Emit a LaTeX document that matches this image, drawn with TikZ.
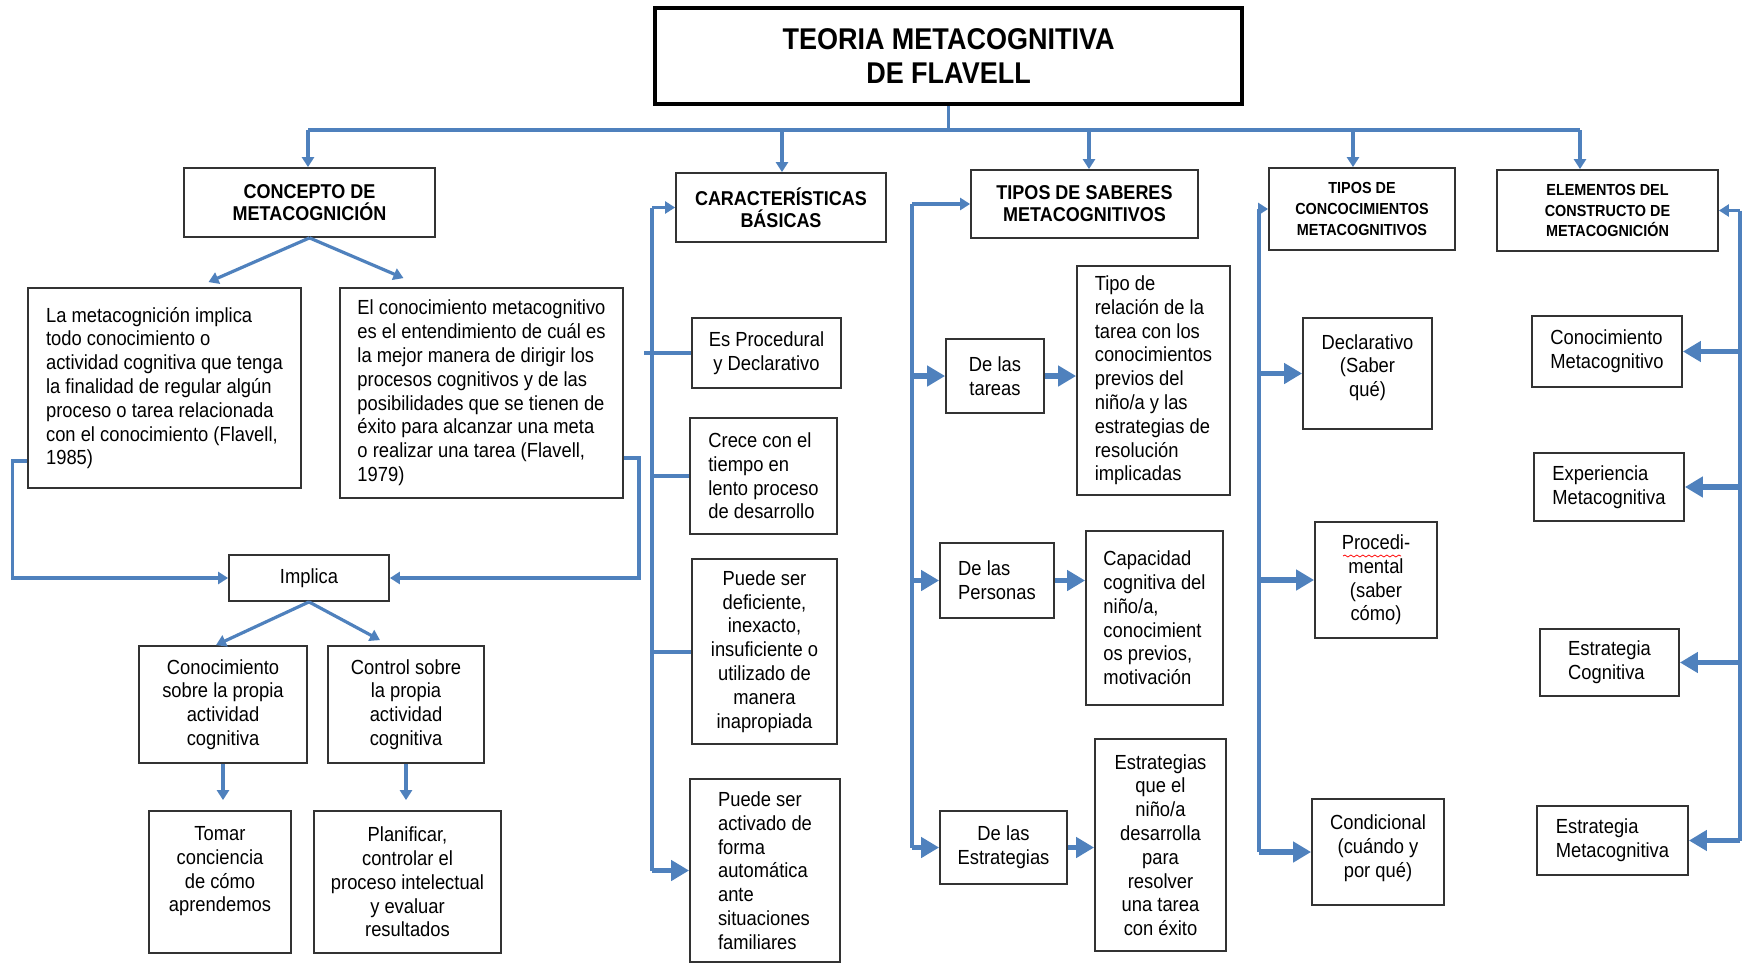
\documentclass[tikz,border=0pt]{standalone}
\usepackage{fontspec}
\setmainfont{Liberation Sans}[FakeStretch=0.9]
\usetikzlibrary{arrows.meta,decorations.pathmorphing}
\definecolor{lineblue}{RGB}{79,129,189}
\tikzset{
  box/.style={draw=black!80, line width=0.9pt, inner sep=2pt, font=\fontsize{10.2}{11.9}\selectfont},
  head/.style={box, font=\fontsize{10}{11}\selectfont\bfseries, align=center},
  smallhead/.style={box, font=\fontsize{8}{10.3}\selectfont\bfseries, align=center},
  wire/.style={draw=lineblue, line width=2pt},
  thinarr/.style={wire, line width=1.6pt, -{Triangle[length=5pt,width=6pt]}},
  thickarr/.style={wire, line width=2.6pt, -{Triangle[length=9pt,width=10pt]}},
}

\begin{document}
\begin{tikzpicture}[x=0.5pt,y=-0.5pt]
\useasboundingbox (0,0) rectangle (1752,964);

%Title and headings
\node[box, draw=black, line width=1.8pt, minimum width=293.5pt, minimum height=48pt,
  font=\fontsize{15}{16.8}\selectfont\bfseries, align=center] (title) at (948.5,56) {TEORIA METACOGNITIVA\\DE FLAVELL};
\node[head, minimum width=125.5pt, minimum height=34.5pt] (concepto) at (309.5,202.5) {CONCEPTO DE\\METACOGNICIÓN};
\node[head, minimum width=105pt, minimum height=34.5pt] (caract) at (781,207.5) {CARACTERÍSTICAS\\BÁSICAS};
\node[head, minimum width=113.5pt, minimum height=34pt] (saberes) at (1084.5,204) {TIPOS DE SABERES\\METACOGNITIVOS};
\node[smallhead, minimum width=93pt, minimum height=41pt] (conoc) at (1362,209) {TIPOS DE\\CONCOCIMIENTOS\\METACOGNITIVOS};
\node[smallhead, minimum width=110.5pt, minimum height=40.5pt] (elem) at (1607.5,210.5) {ELEMENTOS DEL\\CONSTRUCTO DE\\METACOGNICIÓN};

\coordinate (b1) at (308,130);
\coordinate (b2) at (782,130);
\coordinate (b3) at (1089,130);
\coordinate (b4) at (1353,130);
\coordinate (b5) at (1580,130);
\draw[wire, line width=1.6pt] (title.south) -- (title.south |- b1);
\draw[wire] (b1) -- (b5);
\foreach \c/\n in {b1/concepto, b2/caract, b3/saberes, b4/conoc, b5/elem}
  \draw[thinarr] (\c) -- (\c |- \n.north);

%Concepto
\node[box, align=left, minimum width=136.5pt, minimum height=100pt] (def1) at (164.5,388)
  {La metacognición implica\\todo conocimiento o\\actividad cognitiva que tenga\\la finalidad de regular algún\\proceso o tarea relacionada\\con el conocimiento (Flavell,\\1985)};
\node[box, align=left, minimum width=141.5pt, minimum height=105pt] (def2) at (481.5,393)
  {El conocimiento metacognitivo\\es el entendimiento de cuál es\\la mejor manera de dirigir los\\procesos cognitivos y de las\\posibilidades que se tienen de\\éxito para alcanzar una meta\\o realizar una tarea (Flavell,\\1979)};
\node[box, minimum width=80pt, minimum height=23pt] (impl) at (309,578) {Implica};
\node[box, align=center, minimum width=84pt, minimum height=58.5pt] (kn) at (223,704.5)
  {Conocimiento\\sobre la propia\\actividad\\cognitiva};
\node[box, align=center, minimum width=78pt, minimum height=58.5pt] (ctrl) at (406,704.5)
  {Control sobre\\la propia\\actividad\\cognitiva};
\node[box, align=center, minimum width=71pt, minimum height=71pt] (tomar) at (220,882)
  {Tomar\\conciencia\\de cómo\\aprendemos\\[1pt]};
\node[box, align=center, minimum width=93.5pt, minimum height=71pt] (plan) at (407.5,882)
  {Planificar,\\controlar el\\proceso intelectual\\y evaluar\\resultados};

\draw[thinarr] (concepto.south) -- ([xshift=22pt,yshift=2.5pt]def1.north);
\draw[thinarr] (concepto.south) -- ([xshift=-39pt,yshift=4.5pt]def2.north);
\draw[thinarr] ([yshift=-36.5pt]def1.west) -- ++(-15,0) |- (impl.west);
\draw[thinarr] ([yshift=-32.5pt]def2.east) -- ++(15,0) |- (impl.east);
\draw[thinarr] (impl.south) -- ([xshift=-3.5pt]kn.north);
\draw[thinarr] (impl.south) -- ([xshift=-13pt,yshift=2.5pt]ctrl.north);
\draw[thinarr, shorten >=5pt] (kn.south) -- (kn.south |- tomar.north);
\draw[thinarr, shorten >=5pt] (ctrl.south) -- (ctrl.south |- plan.north);

%Caracteristicas
\coordinate (v2) at (652,0);
\node[box, align=center, minimum width=74.5pt, minimum height=35pt] (proc) at (766.5,353)
  {Es Procedural\\y Declarativo};
\node[box, align=left, minimum width=73.5pt, minimum height=58pt] (crece) at (763.5,476)
  {Crece con el\\tiempo en\\lento proceso\\de desarrollo};
\node[box, align=center, minimum width=72.5pt, minimum height=92.5pt] (defic) at (764.5,651.5)
  {Puede ser\\deficiente,\\inexacto,\\insuficiente o\\utilizado de\\manera\\inapropiada};
\node[box, align=left, minimum width=75pt, minimum height=91.5pt] (activ) at (765,870.5)
  {Puede ser\\activado de\\forma\\automática\\ante\\situaciones\\familiares};
\draw[wire] (caract.west -| v2) -- (activ.west -| v2);
\draw[thinarr] (caract.west -| v2) -- (caract.west);
\draw[wire] (proc.west -| v2) ++(-8,0) -- (proc.west);
\foreach \n in {crece, defic}
  \draw[wire] (\n.west -| v2) -- (\n.west);
\draw[thickarr] (activ.west -| v2) -- (activ.west);

%Tipos de saberes
\coordinate (v3) at (912,0);
\node[box, align=center, minimum width=49pt, minimum height=37pt] (tareas) at (995,376) {De las\\tareas};
\node[box, align=left, minimum width=76.5pt, minimum height=114.5pt] (rel) at (1153.5,380.5)
  {Tipo de\\relación de la\\tarea con los\\conocimientos\\previos del\\niño/a y las\\estrategias de\\resolución\\implicadas};
\node[box, align=left, minimum width=57pt, minimum height=37.5pt] (pers) at (997,580.5) {De las\\Personas};
\node[box, align=left, minimum width=68.5pt, minimum height=87pt] (capac) at (1154.5,618)
  {Capacidad\\cognitiva del\\niño/a,\\conocimient\\os previos,\\motivación};
\node[box, align=center, minimum width=63.5pt, minimum height=36.5pt] (estr) at (1003.5,847.5) {De las\\Estrategias};
\node[box, align=center, minimum width=65.5pt, minimum height=106pt] (estq) at (1160.5,845)
  {Estrategias\\que el\\niño/a\\desarrolla\\para\\resolver\\una tarea\\con éxito};
\draw[wire] (saberes.west -| v3) -- (estr.west -| v3);
\draw[thinarr] (saberes.west -| v3) -- (saberes.west);
\foreach \n in {tareas, pers, estr}
  \draw[thickarr] (\n.west -| v3) -- (\n.west);
\draw[thickarr] (tareas.east) -- (tareas.east -| rel.west);
\draw[thickarr] (pers.east) -- (pers.east -| capac.west);
\draw[thickarr] (estr.east) -- (estr.east -| estq.west);

%Tipos de conocimientos
\coordinate (v4) at (1259,0);
\node[box, align=center, minimum width=64.5pt, minimum height=55.5pt] (decl) at (1367.5,373.5)
  {Declarativo\\(Saber\\qué)\\[-4pt]};
\node[box, align=center, minimum width=61pt, minimum height=58pt] (procm) at (1376,580)
  {Procedi-\\mental\\(saber\\cómo)};
\node[box, align=center, minimum width=66pt, minimum height=53pt] (cond) at (1378,852)
  {Condicional\\(cuándo y\\por qué)\\[-6pt]};
\draw[red, decorate, decoration={snake, amplitude=0.5pt, segment length=3pt}] (1343,556) -- (1401,556);
\draw[wire] (conoc.west -| v4) -- (cond.west -| v4);
\draw[thinarr] (conoc.west -| v4) -- (conoc.west);
\foreach \n in {decl, procm, cond}
  \draw[thickarr] (\n.west -| v4) -- (\n.west);

%Elementos
\coordinate (v5) at (1740,0);
\node[box, align=left, minimum width=75pt, minimum height=35.5pt] (cmeta) at (1607,351.5) {Conocimiento\\Metacognitivo};
\node[box, align=left, minimum width=75pt, minimum height=34pt] (expm) at (1609,487) {Experiencia\\Metacognitiva};
\node[box, align=left, minimum width=69.5pt, minimum height=33.5pt] (estc) at (1609.5,662.5) {Estrategia\\Cognitiva};
\node[box, align=left, minimum width=75.5pt, minimum height=34.5pt] (estm) at (1612.5,840.5) {Estrategia\\Metacognitiva};
\draw[wire] (elem.east -| v5) -- (estm.east -| v5);
\draw[thinarr] (elem.east -| v5) -- (elem.east);
\foreach \n in {cmeta, expm, estc, estm}
  \draw[thickarr] (\n.east -| v5) -- (\n.east);
\end{tikzpicture}
\end{document}
